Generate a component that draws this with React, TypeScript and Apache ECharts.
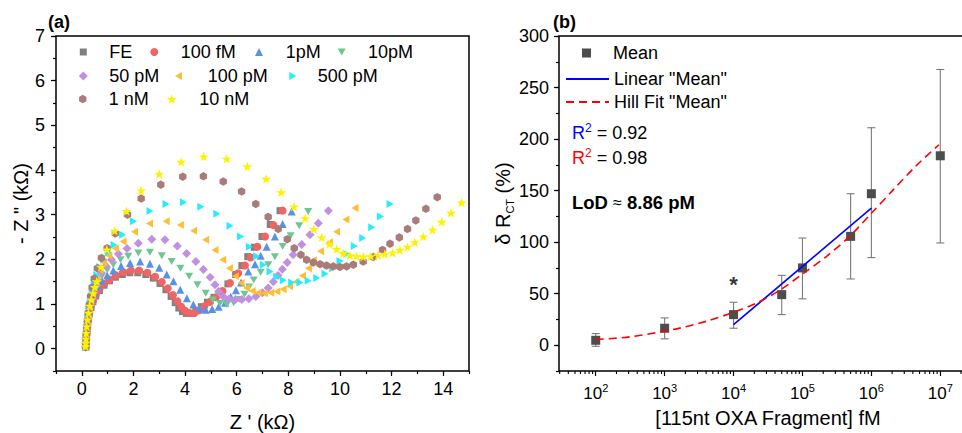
import React, { useEffect, useRef } from 'react';
import * as echarts from 'echarts';

const FONT = '"Liberation Sans", Arial, Helvetica, sans-serif';

// ---------- Panel (a): Nyquist data, [Z' kΩ, -Z'' kΩ] ----------
const seriesNamesA = ['FE', '100 fM', '1pM', '10pM', '50 pM', '100 pM', '500 pM', '1 nM', '10 nM'];
const seriesColorsA = ['#808080', '#F06464', '#5892E8', '#6CC88E', '#C290E2', '#FFBE30', '#22EEFF', '#AA7B78', '#FFF200'];

const dataFE = [[0.15,0.03],[0.16,0.1],[0.17,0.19],[0.18,0.29],[0.2,0.4],[0.22,0.52],[0.25,0.65],[0.29,0.78],[0.35,0.92],[0.43,1.05],[0.54,1.18],[0.68,1.3],[0.86,1.42],[1.07,1.52],[1.3,1.6],[1.57,1.66],[1.86,1.7],[2.17,1.7],[2.48,1.66],[2.77,1.58],[3.03,1.46],[3.26,1.32],[3.46,1.17],[3.62,1.03],[3.76,0.91],[3.9,0.83],[4.05,0.79],[4.22,0.79],[4.42,0.85],[4.63,0.94],[4.87,1.04],[5.12,1.15],[5.38,1.28],[5.66,1.45],[5.96,1.66],[6.2,1.86],[6.43,2.06],[6.68,2.27],[6.98,2.51],[7.3,2.78],[7.68,3.09]];
const data100fM = [[0.15,0.04],[0.16,0.11],[0.17,0.2],[0.18,0.3],[0.2,0.42],[0.22,0.54],[0.25,0.67],[0.29,0.8],[0.35,0.94],[0.43,1.07],[0.54,1.2],[0.68,1.33],[0.86,1.45],[1.07,1.55],[1.32,1.64],[1.6,1.71],[1.9,1.75],[2.22,1.75],[2.54,1.7],[2.84,1.61],[3.1,1.49],[3.33,1.35],[3.53,1.2],[3.7,1.06],[3.85,0.94],[4.0,0.85],[4.17,0.8],[4.36,0.8],[4.55,0.86],[4.75,0.95],[4.97,1.05],[5.2,1.15],[5.45,1.29],[5.74,1.47],[6.06,1.69],[6.32,1.86],[6.54,2.04],[6.8,2.28],[7.1,2.51],[7.42,2.77],[7.78,3.09]];
const data1pM = [[0.15,0.04],[0.16,0.11],[0.17,0.21],[0.18,0.31],[0.2,0.43],[0.22,0.56],[0.25,0.69],[0.29,0.83],[0.34,0.97],[0.41,1.11],[0.5,1.25],[0.62,1.39],[0.78,1.52],[0.98,1.64],[1.22,1.75],[1.52,1.85],[1.87,1.92],[2.26,1.95],[2.64,1.9],[3.0,1.81],[3.29,1.66],[3.55,1.51],[3.81,1.32],[4.07,1.13],[4.32,0.99],[4.56,0.9],[4.8,0.87],[5.05,0.89],[5.3,0.94],[5.55,1.03],[5.77,1.16],[5.97,1.31],[6.17,1.48],[6.45,1.73],[6.71,1.89],[6.93,2.08],[7.16,2.28],[7.48,2.51],[7.78,2.79],[8.13,3.07]];
const data10pM = [[0.15,0.04],[0.16,0.12],[0.17,0.22],[0.18,0.33],[0.2,0.45],[0.22,0.58],[0.25,0.72],[0.29,0.87],[0.34,1.02],[0.41,1.17],[0.5,1.32],[0.62,1.47],[0.78,1.62],[0.98,1.76],[1.22,1.88],[1.5,1.99],[1.8,2.07],[2.19,2.14],[2.64,2.16],[3.1,2.08],[3.48,1.95],[3.82,1.8],[4.16,1.62],[4.48,1.43],[4.8,1.24],[5.08,1.09],[5.35,1.01],[5.62,0.99],[5.88,1.03],[6.1,1.1],[6.3,1.22],[6.48,1.38],[6.66,1.54],[6.93,1.71],[7.22,1.88],[7.48,2.06],[7.78,2.29],[8.09,2.53],[8.42,2.75],[8.77,3.07]];
const data50pM = [[0.15,0.04],[0.16,0.12],[0.17,0.22],[0.18,0.33],[0.2,0.46],[0.22,0.6],[0.25,0.75],[0.29,0.9],[0.34,1.06],[0.41,1.22],[0.5,1.38],[0.61,1.54],[0.75,1.7],[0.93,1.85],[1.15,1.99],[1.42,2.12],[1.75,2.24],[2.19,2.36],[2.71,2.45],[3.22,2.44],[3.7,2.3],[4.06,2.13],[4.42,1.95],[4.71,1.77],[4.97,1.6],[5.16,1.43],[5.3,1.28],[5.48,1.17],[5.7,1.11],[5.95,1.1],[6.2,1.1],[6.47,1.12],[6.74,1.17],[7.0,1.25],[7.22,1.36],[7.42,1.5],[7.6,1.64],[7.77,1.78],[7.96,1.93],[8.19,2.1],[8.52,2.33],[8.84,2.55],[9.16,2.81],[9.55,3.09]];
const data100pM = [[0.15,0.04],[0.16,0.12],[0.17,0.22],[0.18,0.33],[0.2,0.46],[0.22,0.6],[0.25,0.75],[0.29,0.91],[0.34,1.08],[0.4,1.25],[0.48,1.42],[0.58,1.59],[0.7,1.76],[0.85,1.93],[1.05,2.08],[1.3,2.24],[1.6,2.4],[2.04,2.62],[2.62,2.8],[3.27,2.85],[3.82,2.77],[4.33,2.64],[4.8,2.44],[5.16,2.21],[5.46,1.99],[5.72,1.8],[5.95,1.62],[6.17,1.47],[6.38,1.36],[6.6,1.29],[6.83,1.25],[7.07,1.24],[7.32,1.25],[7.56,1.28],[7.8,1.33],[8.05,1.4],[8.3,1.5],[8.55,1.63],[8.78,1.8],[8.97,1.98],[9.25,2.18],[9.59,2.38],[9.87,2.62],[10.23,2.89],[10.58,3.15]];
const data500pM = [[0.15,0.04],[0.16,0.12],[0.17,0.22],[0.18,0.33],[0.2,0.46],[0.22,0.6],[0.25,0.76],[0.29,0.93],[0.34,1.1],[0.4,1.28],[0.48,1.46],[0.58,1.65],[0.7,1.83],[0.85,2.0],[1.03,2.16],[1.25,2.32],[1.58,2.55],[2.0,2.85],[2.64,3.08],[3.26,3.24],[3.94,3.28],[4.61,3.18],[5.23,3.02],[5.74,2.75],[6.15,2.51],[6.49,2.28],[6.77,2.07],[7.03,1.88],[7.29,1.73],[7.55,1.61],[7.81,1.53],[8.13,1.48],[8.45,1.48],[8.77,1.52],[9.1,1.58],[9.42,1.68],[9.72,1.8],[10.0,1.96],[10.27,2.12],[10.56,2.3],[10.88,2.48],[11.23,2.72],[11.57,2.96],[11.94,3.24]];
const data1nM = [[0.15,0.04],[0.16,0.12],[0.17,0.22],[0.18,0.34],[0.2,0.48],[0.22,0.63],[0.25,0.8],[0.29,0.98],[0.34,1.17],[0.4,1.37],[0.48,1.57],[0.6,1.8],[0.76,2.03],[0.98,2.25],[1.3,2.58],[1.77,3.0],[2.3,3.36],[3.06,3.67],[3.91,3.85],[4.71,3.86],[5.48,3.74],[6.19,3.52],[6.74,3.24],[7.22,2.95],[7.61,2.68],[7.96,2.45],[8.23,2.25],[8.49,2.1],[8.71,1.99],[8.97,1.93],[9.23,1.89],[9.48,1.86],[9.74,1.84],[10.0,1.83],[10.26,1.84],[10.52,1.88],[10.9,1.95],[11.29,2.05],[11.65,2.21],[11.94,2.35],[12.3,2.49],[12.62,2.68],[12.94,2.87],[13.33,3.13],[13.77,3.39]];
const data10nM = [[0.14,0.05],[0.15,0.13],[0.16,0.22],[0.17,0.35],[0.19,0.5],[0.22,0.65],[0.26,0.8],[0.31,0.96],[0.37,1.1],[0.44,1.24],[0.5,1.38],[0.58,1.51],[0.74,1.83],[0.97,2.22],[1.27,2.64],[1.73,3.08],[2.3,3.54],[3.0,3.91],[3.85,4.18],[4.72,4.3],[5.61,4.25],[6.41,4.08],[7.14,3.8],[7.72,3.5],[8.22,3.18],[8.65,2.92],[8.99,2.68],[9.29,2.49],[9.59,2.34],[9.87,2.23],[10.13,2.14],[10.39,2.09],[10.64,2.07],[10.9,2.06],[11.19,2.07],[11.48,2.09],[11.74,2.12],[12.04,2.15],[12.32,2.21],[12.62,2.28],[12.9,2.38],[13.23,2.51],[13.59,2.66],[13.94,2.84],[14.3,3.04],[14.71,3.27]];
const seriesDataA = [dataFE, data100fM, data1pM, data10pM, data50pM, data100pM, data500pM, data1nM, data10nM];

// ---------- Panel (b): calibration ----------
const concB = [1e2, 1e3, 1e4, 5e4, 1e5, 5e5, 1e6, 1e7];
const meanB = [4.8, 16.5, 29.7, 49.1, 75, 105.6, 147, 183.8];
const lowB = [-1, 6.2, 16.5, 29.7, 45, 64.3, 85, 99.2];
const highB = [11.3, 26.5, 41.7, 67.8, 104, 147, 211, 267.5];
const linearX = [1e4, 1e6];
const linearY = [20, 133];
const hillX = [100, 310, 1320, 4070, 10000, 21900, 46800, 102000, 224000, 490000, 1000000, 2090000, 4370000, 9550000];
const hillY = [5.5, 8.1, 15.2, 23.3, 32, 41, 53.3, 69.5, 86.3, 106, 128, 151, 173.5, 194.5];
const starPoint = [1e4, 63];

// axis ranges
const AX_MIN = -1, AX_MAX = 15;
const AY_MIN = -0.5, AY_MAX = 7;
const BX_MIN = 29.3, BX_MAX = 3.41e7;
const BY_MIN = -25, BY_MAX = 300;

const STAR = 'path://M50,0L61.8,35.1L97.6,34.5L69.1,56.7L79.4,90.5L50,70L20.6,90.5L30.9,56.7L2.4,34.5L38.2,35.1Z';
const HEX = 'path://M50,0L93.3,25L93.3,75L50,100L6.7,75L6.7,25Z';
const TRI_DOWN = 'path://M0,0L100,0L50,87Z';
const TRI_LEFT = 'path://M0,50L87,0L87,100Z';
const TRI_RIGHT = 'path://M0,0L87,50L0,100Z';
const symbolsA = ['rect', 'circle', 'triangle', TRI_DOWN, 'diamond', TRI_LEFT, TRI_RIGHT, HEX, STAR];
const symbolSizesA = [7, 8, 8, 8, 9, 8, 8, 8.5, 10];

// legend layout: icon centre x, text start x, row centre y
const legendPosA = [
  { cx: 83.3, tx: 109.3, cy: 52 }, { cx: 154.3, tx: 180.7, cy: 52 }, { cx: 259, tx: 285.7, cy: 52 }, { cx: 341.7, tx: 368, cy: 52 },
  { cx: 83.3, tx: 109.3, cy: 76 }, { cx: 179, tx: 208.3, cy: 76 }, { cx: 293.3, tx: 318.3, cy: 76 },
  { cx: 83.3, tx: 109.3, cy: 99 }, { cx: 171.7, tx: 199.3, cy: 99 },
];

const minorLogTicks: number[][] = [];
for (let d = 1; d <= 7; d++) {
  for (let k = 2; k <= 9; k++) {
    const v = k * Math.pow(10, d);
    if (v > BX_MIN && v < BX_MAX) minorLogTicks.push([v, BY_MIN]);
  }
}

const tickStyle = { color: '#000', width: 1.2 };

export default function App() {
  const ref = useRef<HTMLDivElement>(null);
  useEffect(() => {
    document.body.style.margin = '0';
    if (!ref.current) return;
    const chart = echarts.init(ref.current, undefined, { renderer: 'svg' });

    const scatterA = seriesNamesA.map((name, i) => ({
      type: 'scatter',
      name,
      xAxisIndex: 0,
      yAxisIndex: 0,
      data: seriesDataA[i],
      symbol: symbolsA[i],
      symbolSize: symbolSizesA[i],
      symbolKeepAspect: true,
      itemStyle: { color: seriesColorsA[i], opacity: 1 },
      z: 2 + i,
    }));

    const legendsA = seriesNamesA.map((name, i) => {
      const s = symbolSizesA[i];
      const p = legendPosA[i];
      const sp = p.tx - p.cx - s / 2 - 5;
      return {
        data: [{ name, icon: symbolsA[i] }],
        left: p.cx - s / 2,
        top: p.cy - 9,
        padding: 0,
        itemWidth: s,
        itemHeight: s,
        selectedMode: false,
        formatter: (n: string) => '{sp|}{t|' + n + '}',
        textStyle: {
          fontSize: 18, fontFamily: FONT, color: '#000',
          rich: { sp: { width: sp }, t: { fontSize: 18, fontFamily: FONT, color: '#000' } },
        },
      };
    });

    const legendB = [
      {
        data: [{ name: 'Mean', icon: 'rect' }], left: 582, top: 44, padding: 0, itemWidth: 9, itemHeight: 9, selectedMode: false,
        formatter: (n: string) => '{sp|}{t|' + n + '}',
        textStyle: { fontSize: 18, fontFamily: FONT, color: '#000', rich: { sp: { width: 17 }, t: { fontSize: 18, fontFamily: FONT, color: '#000' } } },
      },
      ...[
        { name: 'Linear "Mean"', top: 70 },
        { name: 'Hill Fit "Mean"', top: 93 },
      ].map((l) => ({
        data: [l.name],
        left: 565,
        top: l.top,
        padding: 0,
        itemWidth: 43,
        itemHeight: 14,
        selectedMode: false,
        itemStyle: { opacity: 0, borderWidth: 0 },
        textStyle: { fontSize: 18, fontFamily: FONT, color: '#000' },
      })),
    ];

    const option: any = {
      animation: false,
      textStyle: { fontFamily: FONT },
      grid: [
        { left: 56, top: 36, width: 413, height: 335, show: true, borderColor: '#000', borderWidth: 1.5, backgroundColor: 'transparent', containLabel: false, outerBoundsMode: 'none' },
        { left: 559, top: 36, width: 418, height: 335, show: true, borderColor: '#000', borderWidth: 1.5, backgroundColor: 'transparent', containLabel: false, outerBoundsMode: 'none' },
      ],
      xAxis: [
        {
          type: 'value', gridIndex: 0, position: 'bottom', min: AX_MIN, max: AX_MAX, minInterval: 2, maxInterval: 2,
          axisLine: { show: false, onZero: false },
          axisTick: { show: true, length: 5, lineStyle: tickStyle },
          splitLine: { show: false },
          axisLabel: {
            margin: 9, fontSize: 18, color: '#000', fontFamily: FONT, showMinLabel: false, showMaxLabel: false,
            formatter: (v: number) => (v >= 0 && v <= 14 && Math.abs(v / 2 - Math.round(v / 2)) < 1e-6 ? String(Math.round(v)) : ''),
          },
          name: "Z ' (kΩ)", nameLocation: 'middle', nameGap: 41,
          nameTextStyle: { fontSize: 20, color: '#000', fontFamily: FONT },
        },
        {
          type: 'value', gridIndex: 0, position: 'bottom', min: AX_MIN, max: AX_MAX, interval: 1,
          axisLine: { show: false, onZero: false },
          axisTick: { show: true, length: 3, lineStyle: tickStyle },
          axisLabel: { show: false }, splitLine: { show: false },
        },
        {
          type: 'log', gridIndex: 1, position: 'bottom', min: BX_MIN, max: BX_MAX, logBase: 10,
          axisLine: { show: false, onZero: false },
          axisTick: { show: true, length: 5, lineStyle: tickStyle },
          splitLine: { show: false },
          axisLabel: {
            margin: 11, color: '#000', fontFamily: FONT, showMinLabel: false, showMaxLabel: false,
            formatter: (v: number) => {
              const e = Math.log10(v);
              const r = Math.round(e);
              if (Math.abs(e - r) > 1e-6 || r < 2 || r > 7) return '';
              return '{b|10}{s|' + r + '}';
            },
            rich: {
              b: { fontSize: 17, lineHeight: 22, fontFamily: FONT, color: '#000' },
              s: { fontSize: 11, lineHeight: 6, verticalAlign: 'top', fontFamily: FONT, color: '#000' },
            },
          },
          name: '[115nt OXA Fragment] fM', nameLocation: 'middle', nameGap: 37,
          nameTextStyle: { fontSize: 20, color: '#000', fontFamily: FONT },
        },
      ],
      yAxis: [
        {
          type: 'value', gridIndex: 0, position: 'left', min: AY_MIN, max: AY_MAX, minInterval: 1, maxInterval: 1,
          axisLine: { show: false, onZero: false },
          axisTick: { show: true, length: 5, lineStyle: tickStyle },
          splitLine: { show: false },
          axisLabel: {
            margin: 11, fontSize: 18, color: '#000', fontFamily: FONT, showMinLabel: false,
            formatter: (v: number) => (v >= 0 && Math.abs(v - Math.round(v)) < 1e-6 ? String(Math.round(v)) : ''),
          },
          name: '- Z " (kΩ)', nameLocation: 'middle', nameGap: 23,
          nameTextStyle: { fontSize: 20, color: '#000', fontFamily: FONT },
        },
        {
          type: 'value', gridIndex: 0, position: 'left', min: AY_MIN, max: AY_MAX, interval: 0.5,
          axisLine: { show: false, onZero: false },
          axisTick: { show: true, length: 3, lineStyle: tickStyle },
          axisLabel: { show: false }, splitLine: { show: false },
        },
        {
          type: 'value', gridIndex: 1, position: 'left', min: BY_MIN, max: BY_MAX, minInterval: 50, maxInterval: 50,
          axisLine: { show: false, onZero: false },
          axisTick: { show: true, length: 5, lineStyle: tickStyle },
          splitLine: { show: false },
          axisLabel: {
            margin: 10, fontSize: 18, color: '#000', fontFamily: FONT, showMinLabel: false,
            formatter: (v: number) => (v >= 0 && Math.abs(v / 50 - Math.round(v / 50)) < 1e-6 ? String(Math.round(v)) : ''),
          },
          name: '{d|δ R}{s|CT}{d| (%)}', nameLocation: 'middle', nameGap: 44,
          nameTextStyle: {
            fontSize: 20, color: '#000', fontFamily: FONT,
            rich: {
              d: { fontSize: 20, lineHeight: 24, fontFamily: FONT, color: '#000' },
              s: { fontSize: 11, lineHeight: 10, verticalAlign: 'bottom', fontFamily: FONT, color: '#000' },
            },
          },
        },
        {
          type: 'value', gridIndex: 1, position: 'left', min: BY_MIN, max: BY_MAX, interval: 25,
          axisLine: { show: false, onZero: false },
          axisTick: { show: true, length: 3, lineStyle: tickStyle },
          axisLabel: { show: false }, splitLine: { show: false },
        },
      ],
      legend: [...legendsA, ...legendB],
      graphic: [
        { type: 'text', x: 48, y: 22, style: { text: '(a)', font: 'bold 18px ' + FONT, fill: '#000', verticalAlign: 'middle' } },
        { type: 'text', x: 553, y: 22, style: { text: '(b)', font: 'bold 18px ' + FONT, fill: '#000', verticalAlign: 'middle' } },
        {
          type: 'text', x: 572, y: 133,
          style: {
            text: '{r|R}{s|2}{t| = 0.92}', verticalAlign: 'middle',
            rich: {
              r: { fontSize: 18, lineHeight: 22, fill: '#0000FF', fontFamily: FONT },
              s: { fontSize: 12, lineHeight: 6, verticalAlign: 'top', fill: '#0000FF', fontFamily: FONT },
              t: { fontSize: 18, lineHeight: 22, fill: '#000', fontFamily: FONT },
            },
          },
        },
        {
          type: 'text', x: 572, y: 158,
          style: {
            text: '{r|R}{s|2}{t| = 0.98}', verticalAlign: 'middle',
            rich: {
              r: { fontSize: 18, lineHeight: 22, fill: '#FF0000', fontFamily: FONT },
              s: { fontSize: 12, lineHeight: 6, verticalAlign: 'top', fill: '#FF0000', fontFamily: FONT },
              t: { fontSize: 18, lineHeight: 22, fill: '#000', fontFamily: FONT },
            },
          },
        },
        {
          type: 'text', x: 572, y: 202,
          style: {
            text: '{b|LoD }{n|≈}{b| 8.86 pM}', verticalAlign: 'middle',
            rich: {
              b: { fontSize: 18.5, fontWeight: 'bold', fill: '#000', fontFamily: FONT },
              n: { fontSize: 16, fill: '#000', fontFamily: FONT },
            },
          },
        },
      ],
      series: [
        ...scatterA,
        {
          type: 'custom', name: 'errbars', xAxisIndex: 2, yAxisIndex: 2, clip: false, z: 2,
          data: concB.map((c, i) => [c, lowB[i], highB[i]]),
          renderItem: (params: any, api: any) => {
            const x = api.value(0);
            const pLo = api.coord([x, api.value(1)]);
            const pHi = api.coord([x, api.value(2)]);
            const st = { stroke: '#7A7A7A', lineWidth: 1.1 };
            return {
              type: 'group',
              children: [
                { type: 'line', shape: { x1: pLo[0], y1: pLo[1], x2: pHi[0], y2: pHi[1] }, style: st },
                { type: 'line', shape: { x1: pLo[0] - 4, y1: pLo[1], x2: pLo[0] + 4, y2: pLo[1] }, style: st },
                { type: 'line', shape: { x1: pHi[0] - 4, y1: pHi[1], x2: pHi[0] + 4, y2: pHi[1] }, style: st },
              ],
            };
          },
        },
        {
          type: 'scatter', name: 'Mean', xAxisIndex: 2, yAxisIndex: 2, z: 3,
          data: concB.map((c, i) => [c, meanB[i]]),
          symbol: 'rect', symbolSize: 9, itemStyle: { color: '#4D4D4D', opacity: 1 },
        },
        {
          type: 'line', name: 'Linear "Mean"', xAxisIndex: 2, yAxisIndex: 2, z: 4,
          data: linearX.map((x, i) => [x, linearY[i]]),
          symbol: 'none', showSymbol: false, lineStyle: { color: '#0000FF', width: 1.6 }, itemStyle: { color: '#0000FF' },
        },
        {
          type: 'line', name: 'Hill Fit "Mean"', xAxisIndex: 2, yAxisIndex: 2, z: 5, smooth: 0.3,
          data: hillX.map((x, i) => [x, hillY[i]]),
          symbol: 'none', showSymbol: false, lineStyle: { color: '#FF0000', width: 1.6, type: [8, 5] }, itemStyle: { color: '#FF0000' },
        },
        {
          type: 'scatter', name: 'star', xAxisIndex: 2, yAxisIndex: 2, z: 6,
          data: [starPoint], symbolSize: 1, itemStyle: { color: 'transparent' },
          label: { show: true, formatter: '*', position: 'inside', offset: [0, 4], fontSize: 22, fontWeight: 'bold', color: '#000', fontFamily: FONT },
        },
        {
          type: 'custom', name: 'minorTicks', xAxisIndex: 2, yAxisIndex: 2, clip: false, z: 1,
          data: minorLogTicks,
          renderItem: (params: any, api: any) => {
            const p = api.coord([api.value(0), BY_MIN]);
            return { type: 'line', shape: { x1: p[0], y1: p[1], x2: p[0], y2: p[1] + 3 }, style: { stroke: '#000', lineWidth: 1.1 } };
          },
        },
      ],
    };
    chart.setOption(option);
    return () => chart.dispose();
  }, []);
  return <div ref={ref} style={{ width: 962, height: 433 }} />;
}
